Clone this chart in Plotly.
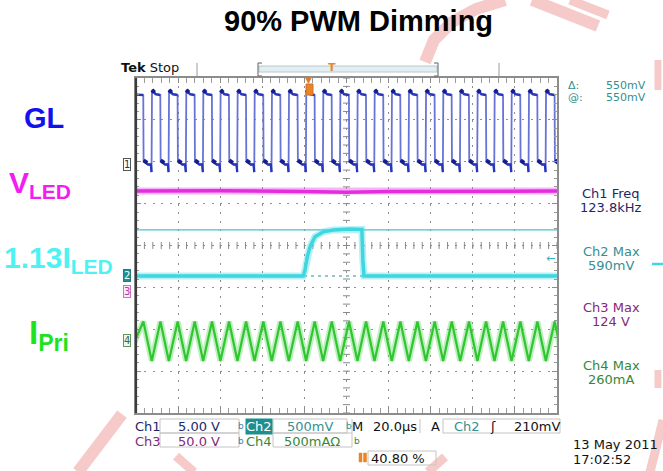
import numpy as np
import plotly.graph_objects as go

# ---------------- data ----------------
time_window_us = [-100.0, 100.0]          # M 20.0 us/div, 10 div

# Ch1  GL gate drive (V): edge instants (us) and levels
gl_rise_us = [-104.6, -92.5, -84.4, -76.2, -68.1, -59.9, -51.8, -43.7, -35.5, -27.4,
              -19.2, -11.1, -3.0, 5.2, 13.3, 21.5, 29.6, 37.7, 45.9, 54.0,
              62.2, 70.3, 78.4, 86.6, 94.7, 102.8]
gl_fall_us = [-96.5, -88.4, -80.2, -72.1, -63.9, -55.8, -47.7, -39.5, -31.4, -23.2,
              -15.1, -7.0, 1.2, 9.3, 17.5, 25.6, 33.7, 41.9, 50.0, 58.2,
              66.3, 74.4, 82.6, 90.7, 98.9]
gl_high_v = 8.4
gl_peak_v = 8.9
gl_low_v = 0.0
gl_dip_v = -0.9
gl_ring_v = 0.5

# Ch4  primary current (mA): peaks at GL falling edges, valleys at GL rising edges
ipri_peak_us = gl_fall_us
ipri_valley_us = gl_rise_us
ipri_peak_ma = 232.0
ipri_valley_ma = -238.0

# Ch3  LED voltage (V)
vled_t_us = [-100, -60, -20, 0, 20, 60, 100]
vled_v = [120.5, 120.8, 120.0, 119.2, 120.0, 120.6, 120.5]

# Ch2  1.13 x LED current (mV)
iled_t_us = [-100, -20.6, -19.8, -18.6, -17.3, -15.0, -11.0, -6.3, 1.7, 6.4, 7.3, 7.8, 8.3, 100]
iled_mv = [0, 0, 60, 230, 350, 468, 527, 548, 560, 560, 555, 180, 0, 0]

# cursors on Ch2 (mV) and trigger
cursor_mv = [550, 0]
trigger_level_mv = 210
trigger_time_us = -18.0

# readouts
readout_right = [("Ch1 Freq", "123.8kHz"), ("Ch2 Max", "590mV"),
                 ("Ch3 Max", "124 V"), ("Ch4 Max", "260mA")]
cursor_readout = [("\u0394:", "550mV"), ("@:", "550mV")]
scale_row1 = ["Ch1", "5.00 V", "Ch2", "500mV", "M", "20.0\u00b5s", "A", "Ch2", "210mV"]
scale_row2 = ["Ch3", "50.0 V", "Ch4", "500mA\u03a9"]
record_pct = "40.80 %"
date_lines = ["13 May 2011", "17:02:52"]

# ---------------- geometry / styles ----------------
W, H = 663, 471
L, R, T, B = 136, 557, 78, 413
def px(x): return (x - L) / (R - L)
def py(y): return (B - y) / (B - T)

# channel settings: (units per div, ground position in divisions from centre)
ch1_scale, ch1_gnd = 5.0, 1.934
ch2_scale, ch2_gnd = 500.0, -0.728
ch3_scale, ch3_gnd = 50.0, -1.110
ch4_scale, ch4_gnd = 500.0, -2.28
def rng(scale, gnd): return [(-4 - gnd) * scale, (4 - gnd) * scale]

BLUE_L, BLUE, BLUE_D = "#6873d6", "#2636bd", "#161e8c"
MAG = "#e32ee0"
CYAN = "#3fd6df"
GREEN = "#2fc62f"
TEAL_T = "#358f8f"
NAVY_T = "#1c2868"
PURP_T = "#84287a"
GREEN_T = "#378737"
SCOPE_FONT = "DejaVu Sans"

fig = go.Figure()

# graticule centre-line ticks
gx = np.arange(-100, 100.01, 4)
fig.add_trace(go.Scatter(x=gx, y=[0] * len(gx), mode="markers", hoverinfo="skip",
                         marker=dict(symbol="line-ns", size=5, line=dict(width=1, color="#8a8a8a"))))
gy = np.arange(-4, 4.001, 0.2)
fig.add_trace(go.Scatter(x=[0] * len(gy), y=gy, mode="markers", hoverinfo="skip",
                         marker=dict(symbol="line-ew", size=5, line=dict(width=1, color="#8a8a8a"))))

# Ch3 VLED
fig.add_trace(go.Scatter(x=vled_t_us, y=vled_v, yaxis="y4", mode="lines", hoverinfo="skip",
                         line=dict(color="rgba(235,90,235,0.45)", width=7)))
fig.add_trace(go.Scatter(x=vled_t_us, y=vled_v, yaxis="y4", mode="lines", hoverinfo="skip",
                         line=dict(color=MAG, width=3.5)))

# Ch2 cursors
fig.add_trace(go.Scatter(x=time_window_us, y=[cursor_mv[0]] * 2, yaxis="y3", mode="lines",
                         hoverinfo="skip", line=dict(color="#45c4cc", width=1.4)))
fig.add_trace(go.Scatter(x=time_window_us, y=[cursor_mv[1]] * 2, yaxis="y3", mode="lines",
                         hoverinfo="skip", line=dict(color="#2a8f96", width=1.2, dash="3px,4px")))

# Ch2 ILED
fig.add_trace(go.Scatter(x=iled_t_us, y=iled_mv, yaxis="y3", mode="lines", hoverinfo="skip",
                         line=dict(color="rgba(90,225,232,0.45)", width=7)))
fig.add_trace(go.Scatter(x=iled_t_us, y=iled_mv, yaxis="y3", mode="lines", hoverinfo="skip",
                         line=dict(color=CYAN, width=3.5)))

# Ch4 IPri triangle
ev = sorted([(t, ipri_peak_ma) for t in ipri_peak_us] + [(t, ipri_valley_ma) for t in ipri_valley_us])
ip_t = [e[0] for e in ev]
ip_v = [e[1] for e in ev]
fig.add_trace(go.Scatter(x=ip_t, y=ip_v, yaxis="y5", mode="lines", hoverinfo="skip",
                         line=dict(color="rgba(110,220,110,0.45)", width=6)))
fig.add_trace(go.Scatter(x=ip_t, y=ip_v, yaxis="y5", mode="lines", hoverinfo="skip",
                         line=dict(color=GREEN, width=2.2)))

# Ch1 GL square wave built from the edge instants
events = sorted([(t, 1) for t in gl_rise_us] + [(t, 0) for t in gl_fall_us])
gl_t, gl_v = [], []
blob_t, blob_v = [], []
for t, is_rise in events:
    if is_rise:
        gl_t += [t - 0.45, t - 0.12, t + 0.1, t + 0.6, t + 1.8]
        gl_v += [gl_low_v, gl_dip_v, gl_peak_v, gl_peak_v - 0.1, gl_high_v]
        blob_t += [t + 0.1, t + 0.6, t + 1.3, None]
        blob_v += [gl_peak_v, gl_peak_v - 0.1, gl_peak_v - 0.3, None]
    else:
        gl_t += [t - 0.05, t + 0.1, t + 1.0, t + 2.2]
        gl_v += [gl_high_v - 0.1, gl_ring_v, gl_ring_v - 0.2, gl_low_v]
        blob_t += [t + 0.1, t + 1.0, t + 1.8, None]
        blob_v += [gl_ring_v, gl_ring_v - 0.2, gl_ring_v - 0.3, None]
flat_t, flat_v = [gl_t[0]], [gl_v[0]]
for i in range(1, len(gl_t)):
    if abs(gl_v[i] - gl_v[i - 1]) > 3:
        flat_t.append(None)
        flat_v.append(None)
    flat_t.append(gl_t[i])
    flat_v.append(gl_v[i])
fig.add_trace(go.Scatter(x=gl_t, y=gl_v, yaxis="y2", mode="lines", hoverinfo="skip",
                         line=dict(color=BLUE_L, width=1.8)))
fig.add_trace(go.Scatter(x=flat_t, y=flat_v, yaxis="y2", mode="lines", hoverinfo="skip",
                         line=dict(color=BLUE, width=2.3)))
fig.add_trace(go.Scatter(x=blob_t, y=blob_v, yaxis="y2", mode="lines", hoverinfo="skip",
                         line=dict(color=BLUE_D, width=4)))

# ---------------- annotations ----------------
ann = []
def text(x, y, s, size=13, color="#111", family=SCOPE_FONT, xanchor="center", yanchor="middle",
         bg=None, border=None, pad=0, **kw):
    d = dict(x=px(x), y=py(y), xref="paper", yref="paper", text=s, showarrow=False,
             font=dict(size=size, color=color, family=family), xanchor=xanchor, yanchor=yanchor,
             borderpad=pad)
    if bg: d["bgcolor"] = bg
    if border: d["bordercolor"] = border; d["borderwidth"] = 1
    d.update(kw)
    ann.append(d)

# title & left labels
text(358, 21, "<b>90% PWM Dimming</b>", size=29, color="#000", family="Liberation Sans")
text(44, 118, "<b>GL</b>", size=29, color="#1212ee", family="Liberation Sans")
text(8, 184, "<b>V<sub>LED</sub></b>", size=30, color="#f21df0", family="Liberation Sans", xanchor="left")
text(3, 259, "<b>1.13I<sub>LED</sub></b>", size=30, color="#4ff2f2", family="Liberation Sans", xanchor="left")
text(28, 335, "<b>I<sub>Pri</sub></b>", size=33, color="#1fe21f", family="Liberation Sans", xanchor="left")

# header
text(120, 68, "<b>Tek</b> Stop", size=13, color="#111", xanchor="left")
text(332, 68, "<b>T</b>", size=11, color="#e08a2a")

# right readouts
for i, (a, b) in enumerate(cursor_readout):
    yy = 85.5 + 12.5 * i
    text(567, yy, a, size=11, color=TEAL_T, xanchor="left")
    text(647, yy, b, size=11, color=TEAL_T, xanchor="right")
right_cols = [NAVY_T, TEAL_T, PURP_T, GREEN_T]
right_y = [193, 251, 307, 365]
for (a, b), c, yy in zip(readout_right, right_cols, right_y):
    text(611, yy, a, size=13, color=c)
    text(611, yy + 14, b, size=13, color=c)

# bottom scale readouts
r1, r2 = 426, 441
text(148, r1, scale_row1[0], color=NAVY_T)
text(199, r1, scale_row1[1], color=NAVY_T)
text(259, r1, scale_row1[2], color="#ffffff", bg="#1f8e8e")
text(310, r1, scale_row1[3], color=TEAL_T)
text(357, r1, scale_row1[4], color="#111")
text(395, r1, scale_row1[5], color="#111")
text(435, r1, scale_row1[6], color="#111")
text(467, r1, scale_row1[7], color=TEAL_T)
text(493, r1, "\u0283", color="#111")
text(537, r1, scale_row1[8], color="#111")
text(148, r2, scale_row2[0], color=PURP_T)
text(199, r2, scale_row2[1], color=PURP_T)
text(259, r2, scale_row2[2], color=GREEN_T)
text(312, r2, scale_row2[3], color=GREEN_T)
for xx, yy, c in [(241, r1, "#4a7fa8"), (349, r1, TEAL_T), (241, r2, "#4a7fa8"), (357, r2, GREEN_T)]:
    text(xx, yy, "b", size=9, color=c)
text(370, 458, record_pct, color="#111", xanchor="left")
text(572, 444, date_lines[0], size=13, color="#111", xanchor="left")
text(572, 459, date_lines[1], size=13, color="#111", xanchor="left")

# channel ground markers (placed through channel scales)
for ax, lab, fc, bc, bg in [("y2", "1", "#333", "#555", "#ffffff"),
                            ("y3", "2", "#ffffff", "#1f7f7f", "#1f8e8e"),
                            ("y4", "3", "#b03aa8", "#d070c8", "#fbeaf8"),
                            ("y5", "4", "#3c6c3c", "#5c9a5c", "#eef8ee")]:
    ann.append(dict(x=-0.012, y=0, xref="paper", yref=ax, text=lab, showarrow=False,
                    xanchor="right", yanchor="middle", font=dict(size=10, color=fc, family=SCOPE_FONT),
                    bgcolor=bg, bordercolor=bc, borderwidth=1, borderpad=0))
ann.append(dict(x=0.985, y=trigger_level_mv, xref="paper", yref="y3", text="\u2190", showarrow=False,
                xanchor="center", yanchor="middle", font=dict(size=11, color="#2fb4c2", family=SCOPE_FONT)))
ann.append(dict(x=trigger_time_us, y=py(80), xref="x", yref="paper", text="\u25bc", showarrow=False,
                xanchor="center", yanchor="middle", font=dict(size=9, color="#e07a22", family=SCOPE_FONT)))

# ---------------- shapes ----------------
shapes = []
def line(x0, y0, x1, y1, color, width, layer="above"):
    shapes.append(dict(type="line", xref="paper", yref="paper", x0=px(x0), y0=py(y0), x1=px(x1), y1=py(y1),
                       line=dict(color=color, width=width), layer=layer))
def rect(x0, y0, x1, y1, lc, fill="rgba(0,0,0,0)", width=1, layer="above"):
    shapes.append(dict(type="rect", xref="paper", yref="paper", x0=px(x0), y0=py(y0), x1=px(x1), y1=py(y1),
                       line=dict(color=lc, width=width), fillcolor=fill, layer=layer))
def stroke(pts, color="rgba(240,150,150,0.5)", width=12):
    p = "M " + " L ".join(f"{px(a):.4f},{py(b):.4f}" for a, b in pts)
    shapes.append(dict(type="path", xref="paper", yref="paper", path=p,
                       line=dict(color=color, width=width), layer="below"))

# watermark strokes
stroke([(425, 62), (434, 40), (452, 22), (476, 9), (505, 0)])
stroke([(532, 0), (598, 26)])
stroke([(570, 0), (608, 15)], width=9)
stroke([(78, 472), (122, 414)])
stroke([(176, 456), (194, 472)], width=9)
stroke([(428, 472), (445, 457)], width=9)
stroke([(658, 60), (658, 90)], width=7)
stroke([(658, 370), (658, 388)], width=7)
stroke([(650, 472), (663, 420)], width=9)
line(652, 264, 663, 264, "#40d8e0", 2.5)

# header record bar
line(197, 63, 197, 76, "#9a9a9a", 1)
line(499, 63, 499, 76, "#9a9a9a", 1)
rect(259, 66, 437, 72, "#b8c8d0", fill="#e2eef3")
line(258, 63, 258, 76, "#777", 1.2)
line(438, 63, 438, 76, "#777", 1.2)
line(258, 63, 262, 63, "#777", 1.2)
line(258, 76, 262, 76, "#777", 1.2)
line(434, 63, 438, 63, "#777", 1.2)
line(434, 76, 438, 76, "#777", 1.2)
rect(306, 84, 313, 95, "#d87020", fill="#e8852a")
# left border darker
line(136, 78, 136, 413, "#3c3c3c", 2.2)
# bottom readout boxes
rect(160, 419, 239, 433, "#c4c4c4")
rect(273, 419, 347, 433, "#c4c4c4")
rect(160, 433, 239, 447, "#c4c4c4")
rect(273, 433, 352, 447, "#c4c4c4")
line(352, 419, 352, 433, "#c4c4c4", 1)
line(420, 419, 420, 433, "#c4c4c4", 1)
rect(443, 419, 560, 433, "#c4c4c4")
rect(368, 451, 436, 465, "#c4c4c4")
rect(359, 453, 362, 462, "#e8852a", fill="#e8852a", width=0.5)
rect(363.5, 453, 366.5, 462, "#e8852a", fill="#e8852a", width=0.5)

ax_common = dict(showline=True, linecolor="#8c8c8c", linewidth=1.5, mirror="allticks",
                 ticks="inside", tickcolor="#8c8c8c", ticklen=5, tickwidth=1,
                 showticklabels=False, showgrid=True, gridcolor="#8e8e8e", gridwidth=1,
                 griddash="2px,6.4px", zeroline=False, fixedrange=True)
fig.update_layout(
    width=W, height=H, margin=dict(l=L, r=W - R, t=T, b=H - B, autoexpand=False),
    paper_bgcolor="#ffffff", plot_bgcolor="#ffffff", showlegend=False,
    xaxis=dict(range=time_window_us, dtick=20, tick0=-100,
               minor=dict(dtick=4, tick0=-100, ticks="inside", ticklen=3, tickcolor="#9a9a9a", showgrid=False),
               **ax_common),
    yaxis=dict(range=[-4, 4], dtick=1, tick0=-4,
               minor=dict(dtick=0.2, tick0=-4, ticks="inside", ticklen=3, tickcolor="#9a9a9a", showgrid=False),
               **ax_common),
    yaxis2=dict(overlaying="y", range=rng(ch1_scale, ch1_gnd), visible=False, fixedrange=True),
    yaxis3=dict(overlaying="y", range=rng(ch2_scale, ch2_gnd), visible=False, fixedrange=True),
    yaxis4=dict(overlaying="y", range=rng(ch3_scale, ch3_gnd), visible=False, fixedrange=True),
    yaxis5=dict(overlaying="y", range=rng(ch4_scale, ch4_gnd), visible=False, fixedrange=True),
    annotations=ann, shapes=shapes,
)
fig.write_html("out.html", config={"displayModeBar": False},
               post_script="document.body.style.margin='0px';document.body.style.overflow='hidden';")
